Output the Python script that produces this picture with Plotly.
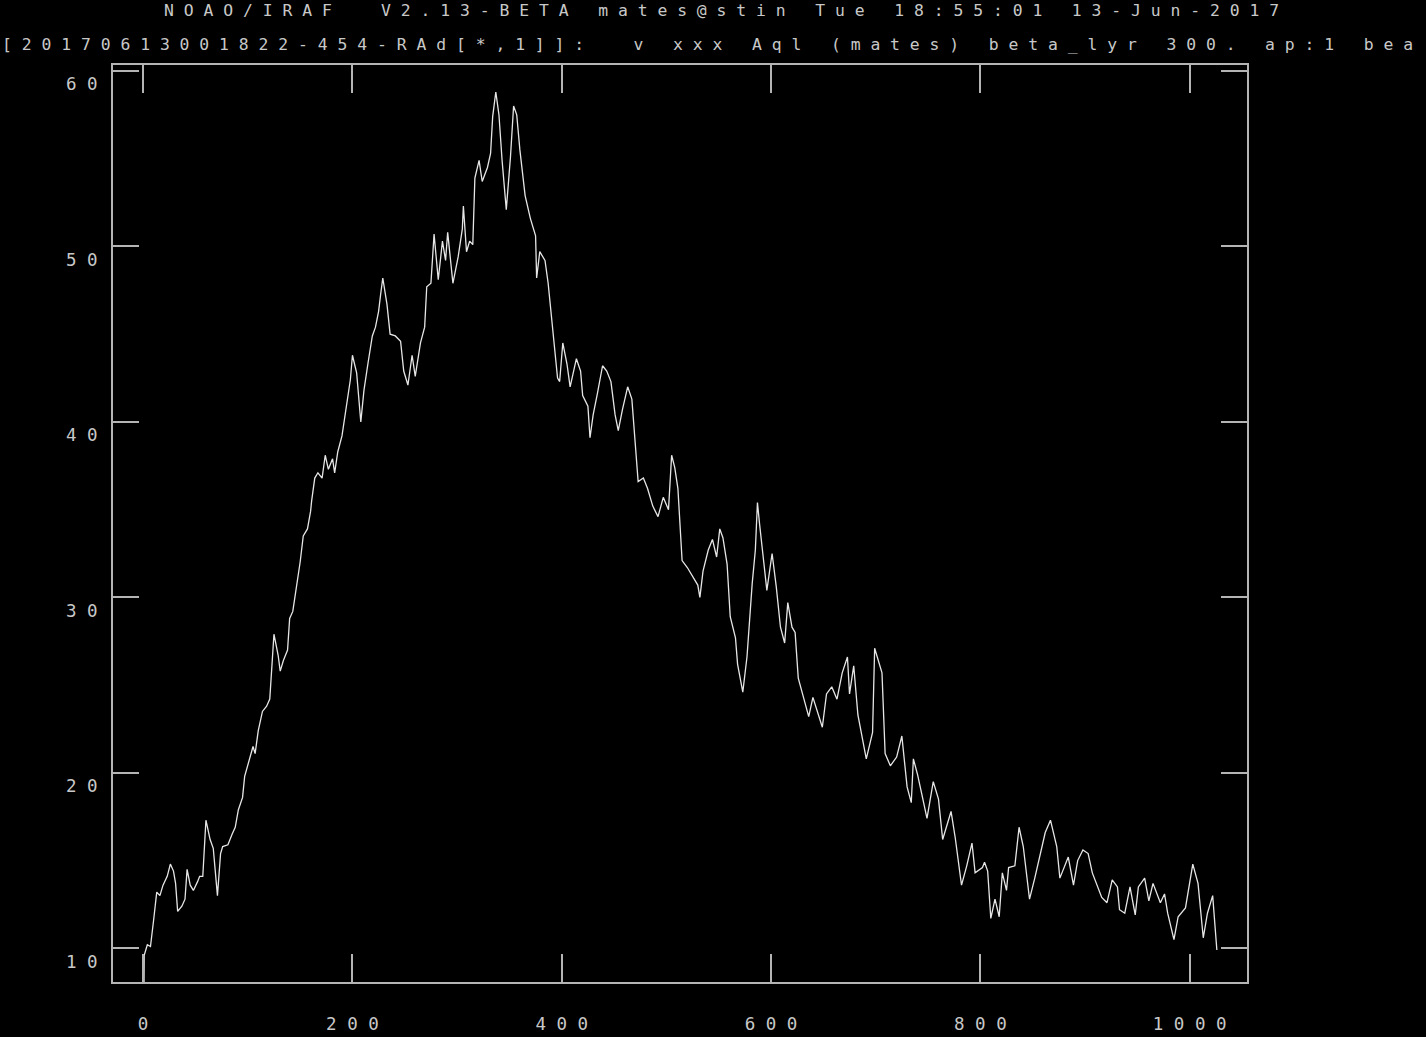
import plotly.graph_objects as go

# ---- data (pixel index vs. flux) ----
pixel = [0, 1, 4, 7, 10, 13, 16, 19, 23, 26, 29, 31, 33, 37, 40, 42, 45, 48, 52, 54, 57, 60, 64, 67, 71, 74, 76, 81, 85, 88,
         91, 95, 97, 102, 105, 107, 110, 114, 118, 121, 123, 125, 129, 131, 134, 138, 140, 143, 145, 148, 150, 153, 157, 160, 161, 164, 167, 171, 174, 177,
         181, 183, 186, 190, 192, 195, 198, 200, 204, 208, 211, 215, 219, 222, 225, 227, 229, 233, 236, 241, 246, 249, 253, 257, 260, 265,
         269, 271, 275, 278, 282, 286, 289, 291, 296, 301, 305, 306, 309, 312, 315, 317, 321, 324, 329, 332, 334, 337, 340, 343, 347, 351, 354, 357, 360,
         365, 370, 375, 376, 379, 384, 387, 392, 396, 398, 401, 405, 408, 414, 418, 420, 425, 427, 430, 434, 439, 443, 447, 451, 454, 458, 461, 463, 467,
         470, 473, 478, 482, 487, 492, 497, 502, 505, 508, 511, 515, 520, 525, 530,
         532, 535, 540, 544, 548, 551, 554, 558, 561, 566, 568, 573, 577, 582, 585, 587, 589, 592, 596, 601, 605, 609, 613, 616, 620, 623, 626, 631, 636,
         640, 645, 649, 653, 658, 663, 668, 673, 675, 679, 683, 691, 697, 699, 706, 709, 714, 720, 725, 730, 734, 736, 740, 744,
         749, 755, 760, 764, 772, 776, 782, 787, 792, 795, 802, 804, 807, 810, 814, 818, 821, 825, 827, 833, 837, 841, 847, 852, 857, 862, 867, 873, 876,
         884, 889, 893, 898, 903, 907, 911, 916, 921, 926, 931, 933, 938, 943, 948, 951, 957, 961, 965, 972, 976, 979, 985, 989, 996, 1003, 1008, 1013,
         1017, 1022, 1026]
flux = [0.0, 9.6, 10.2, 10.1, 11.6, 13.2, 13.0, 13.6, 14.1, 14.8, 14.4, 13.7, 12.1, 12.4, 12.8, 14.5, 13.6, 13.3, 13.8, 14.1, 14.1, 17.3, 16.2, 15.7, 13.0, 15.4, 15.8, 15.9, 16.5, 16.9,
        17.9, 18.6, 19.8, 20.9, 21.5, 21.1, 22.4, 23.5, 23.8, 24.2, 25.9, 27.9, 26.7, 25.8, 26.4, 27.0, 28.8, 29.2, 30.0, 31.2, 32.0, 33.5, 33.9, 34.9, 35.5, 36.8, 37.1, 36.8, 38.1, 37.3,
        37.9, 37.1, 38.3, 39.2, 40.0, 41.3, 42.4, 43.8, 42.8, 40.0, 41.8, 43.4, 44.9, 45.4, 46.3, 47.3, 48.2, 46.7, 45.0, 44.9, 44.6, 42.9, 42.1, 43.8, 42.6, 44.5,
        45.4, 47.7, 47.9, 50.7, 48.1, 50.3, 49.2, 50.8, 47.9, 49.4, 51.0, 52.3, 49.7, 50.3, 50.1, 53.9, 54.9, 53.7, 54.5, 55.3, 57.4, 58.8, 57.5, 54.9, 52.1, 55.1, 58.0, 57.5, 55.5,
        52.9, 51.6, 50.6, 48.2, 49.7, 49.2, 47.9, 44.7, 42.5, 42.3, 44.5, 43.3, 42.0, 43.6, 42.9, 41.5, 40.9, 39.1, 40.4, 41.6, 43.2, 42.9, 42.3, 40.4, 39.5, 40.7, 41.6, 42.0, 41.3,
        39.1, 36.6, 36.8, 36.2, 35.2, 34.6, 35.7, 35.0, 38.1, 37.4, 36.2, 32.1, 31.7, 31.2, 30.7,
        30.0, 31.5, 32.7, 33.3, 32.3, 33.9, 33.4, 31.9, 28.9, 27.7, 26.2, 24.6, 26.6, 30.8, 32.7, 35.4, 34.2, 32.6, 30.4, 32.5, 30.6, 28.3, 27.4, 29.7, 28.3, 28.0, 25.4, 24.3, 23.2,
        24.3, 23.4, 22.6, 24.5, 24.9, 24.2, 25.7, 26.6, 24.5, 26.1, 23.3, 20.8, 22.3, 27.1, 25.7, 21.1, 20.4, 20.9, 22.1, 19.2, 18.3, 20.8, 19.9, 18.8,
        17.4, 19.5, 18.5, 16.2, 17.8, 16.3, 13.6, 14.7, 16.0, 14.3, 14.6, 14.9, 14.4, 11.7, 12.8, 11.8, 14.3, 13.3, 14.6, 14.7, 16.9, 15.8, 12.8, 14.0, 15.4, 16.6, 17.3, 15.8, 14.0,
        15.2, 13.6, 15.0, 15.6, 15.4, 14.3, 13.7, 12.9, 12.6, 13.9, 13.5, 12.2, 12.0, 13.5, 11.9, 13.5, 14.0, 12.7, 13.7, 12.6, 13.1, 12.0, 10.5, 11.8, 12.3, 14.8, 13.7, 10.6,
        12.0, 13.0, 9.9]

x_ticks = [0, 200, 400, 600, 800, 1000]
y_ticks = [10, 20, 30, 40, 50, 60]
title_line1 = "NOAO/IRAF  V2.13-BETA mates@stin Tue 18:55:01 13-Jun-2017"
title_line2 = "[20170613001822-454-RAd[*,1]]:  v xxx Aql (mates) beta_lyr 300. ap:1 bea"


def spaced(s):
    return " ".join(s)


MONO = "DejaVu Sans Mono"
TXT = "#c8c8c8"
AX = "#b4b4b4"

fig = go.Figure()
fig.add_trace(go.Scatter(x=pixel, y=flux, mode="lines",
                         line=dict(color="#e6e6e6", width=1.3), hoverinfo="skip"))

fig.update_layout(
    width=1426, height=1037,
    paper_bgcolor="black", plot_bgcolor="black",
    margin=dict(l=113, r=179, t=65, b=55),
    showlegend=False,
    xaxis=dict(range=[-28.8, 1054.8], tickmode="array", tickvals=x_ticks,
               ticktext=[spaced(str(v)) for v in x_ticks], automargin=False,
               ticks="inside", ticklen=28, tickwidth=2, tickcolor=AX,
               showline=True, linecolor=AX, linewidth=2, mirror="ticks",
               showgrid=False, zeroline=False, ticklabelstandoff=25,
               tickfont=dict(family=MONO, size=17.5, color=TXT)),
    yaxis=dict(range=[8.08, 60.34], tickmode="array", tickvals=y_ticks,
               ticktext=[spaced(str(v)) for v in y_ticks], automargin=False,
               ticks="inside", ticklen=26, tickwidth=2, tickcolor=AX,
               showline=True, linecolor=AX, linewidth=2, mirror="ticks",
               showgrid=False, zeroline=False, ticklabelstandoff=10,
               ticklabelposition="outside bottom",
               tickfont=dict(family=MONO, size=17.5, color=TXT)),
    annotations=[
        dict(text=spaced(title_line1), xref="paper", yref="paper",
             x=0.5370, y=1.059, xanchor="center", yanchor="middle", showarrow=False,
             font=dict(family=MONO, size=16.4, color=TXT)),
        dict(text=spaced(title_line2), xref="paper", yref="paper",
             x=-0.0996, y=1.0229, xanchor="left", yanchor="middle", showarrow=False,
             font=dict(family=MONO, size=16.4, color=TXT)),
    ],
)

fig.write_html("out.html")
